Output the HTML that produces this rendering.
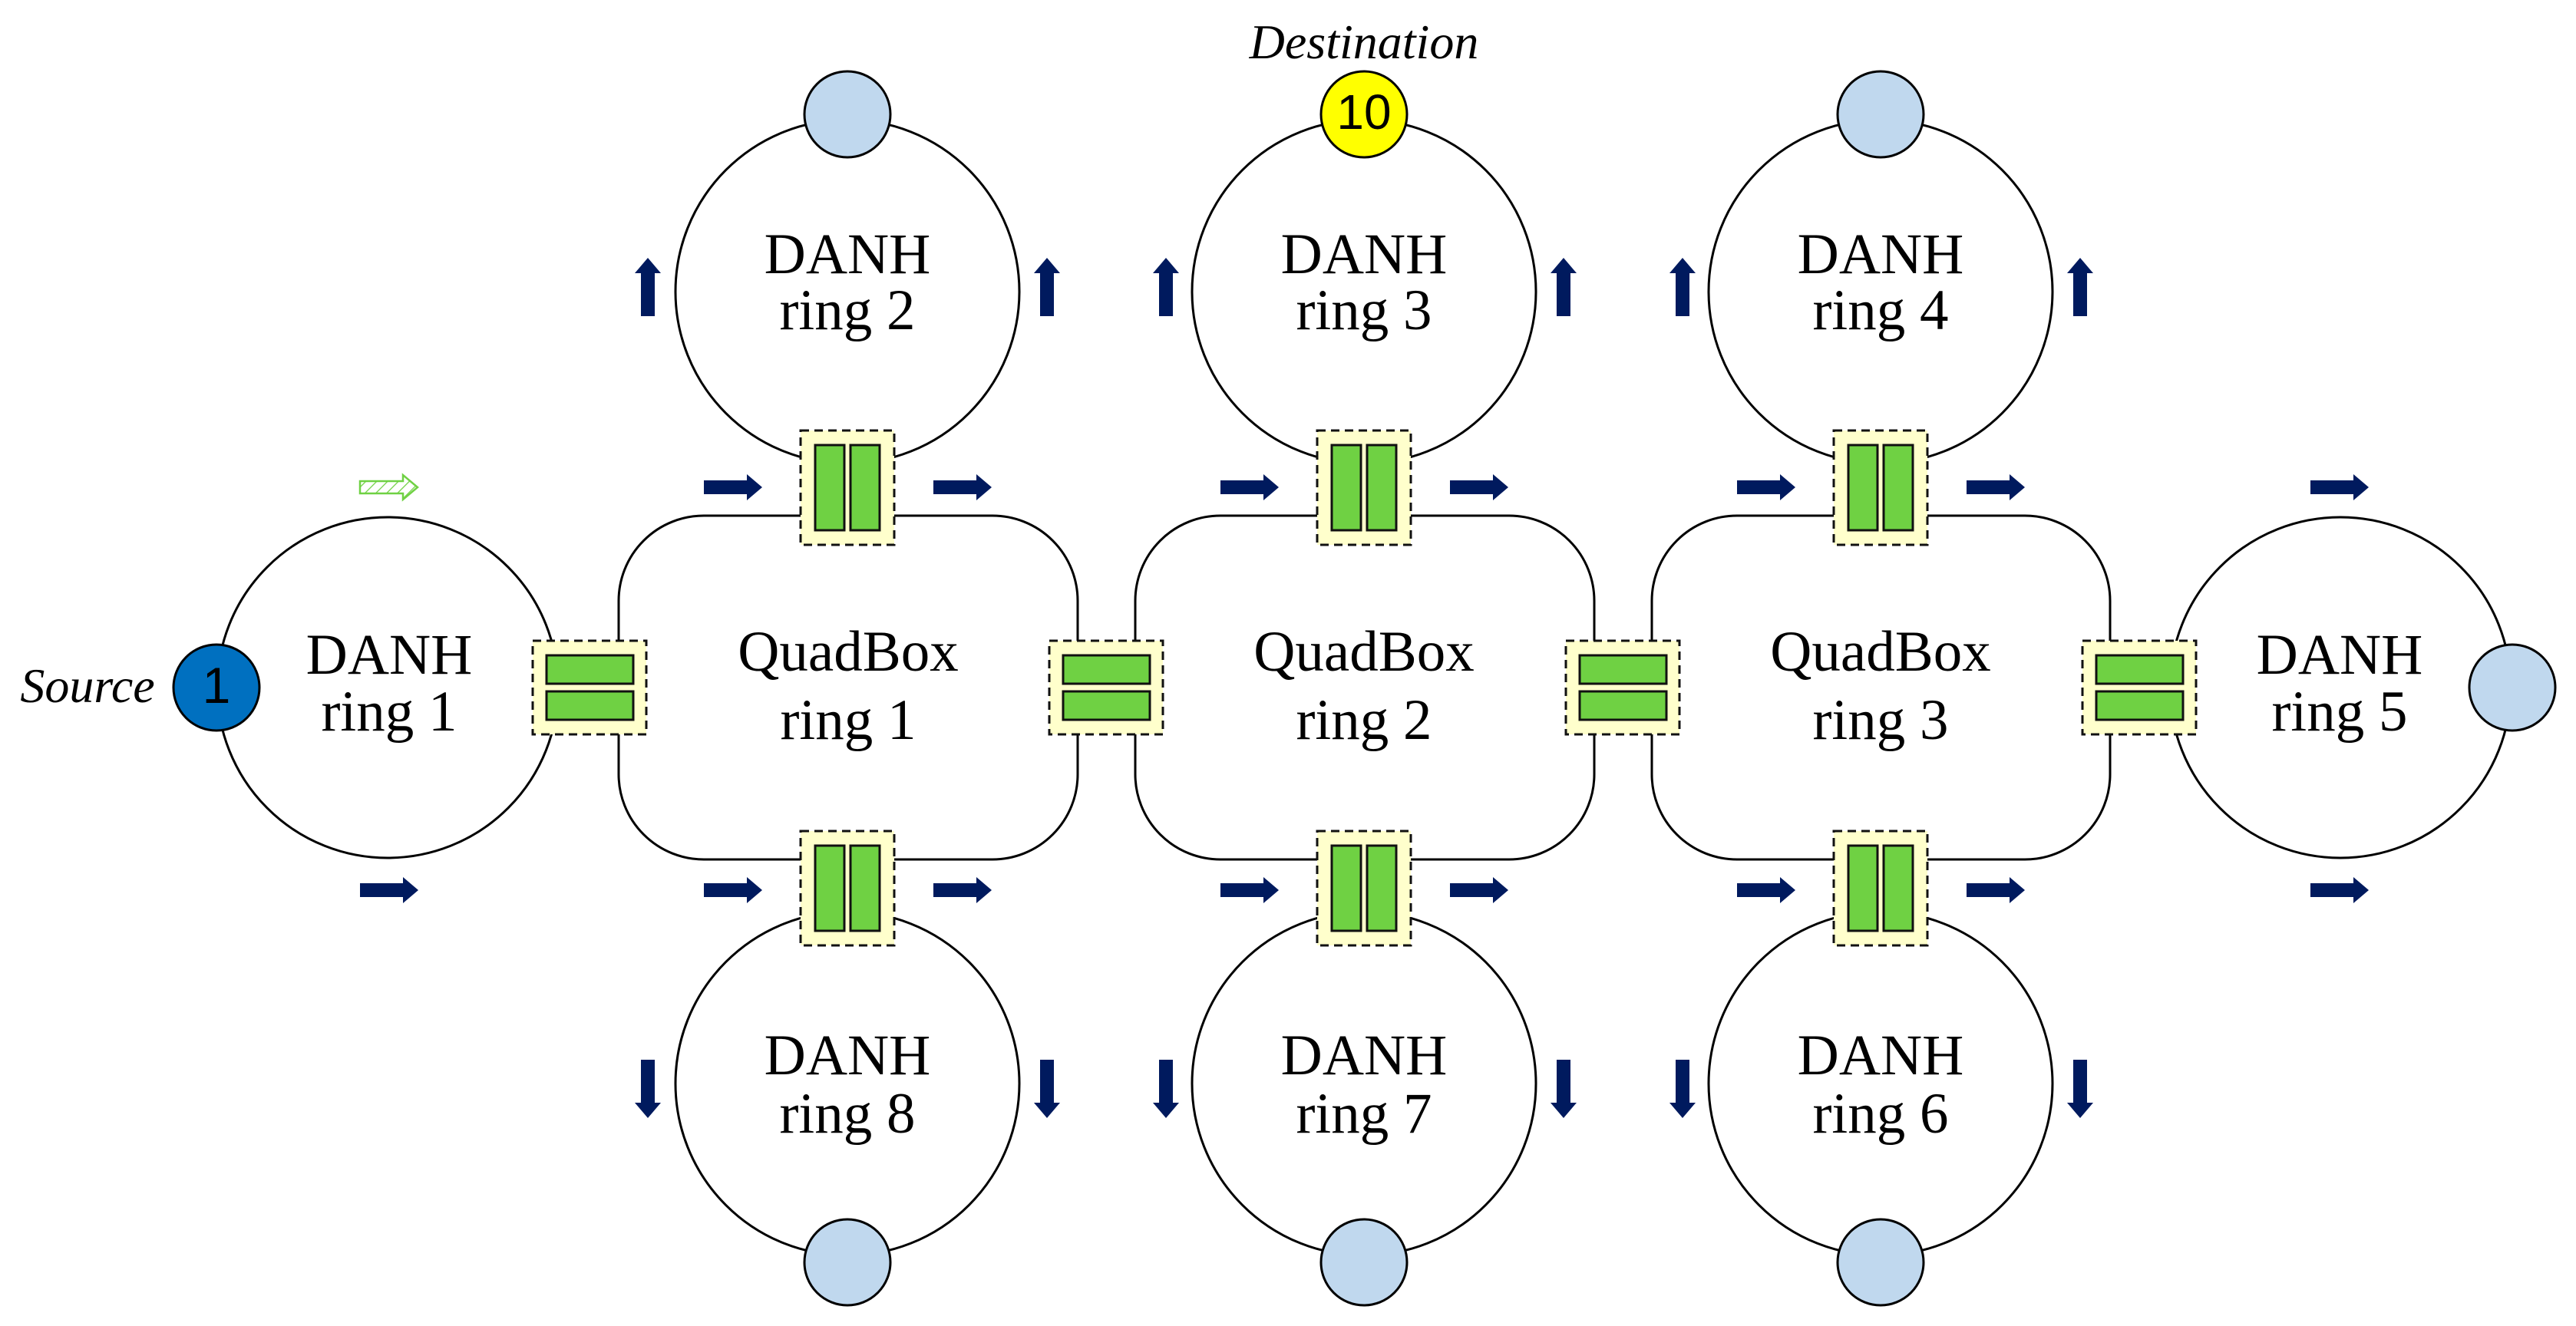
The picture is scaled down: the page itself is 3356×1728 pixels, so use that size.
<!DOCTYPE html>
<html><head><meta charset="utf-8"><style>
html,body{margin:0;padding:0;background:#fff;}
svg{display:block;}
text{font-family:"Liberation Serif","Times New Roman",Times,serif;}
.t{font-size:75px;text-anchor:middle;fill:#000;}
.n{font-family:"Liberation Sans",Arial,sans-serif;font-size:66px;text-anchor:middle;fill:#000;}
</style></head><body>
<svg width="3356" height="1728" viewBox="0 0 3356 1728" xmlns="http://www.w3.org/2000/svg">
<defs>
<pattern id="h" width="10" height="10" patternUnits="userSpaceOnUse" patternTransform="rotate(45)">
<line x1="0" y1="0" x2="0" y2="10" stroke="#6fd143" stroke-width="2.5"/>
</pattern>
<g id="ar"><polygon points="0,-9 56,-9 56,-17 76,0 56,17 56,9 0,9" fill="#001a5e"/></g>
<g id="bx">
<rect x="-61" y="-75" width="122" height="149" fill="#ffffcc" stroke="#111" stroke-width="3" stroke-dasharray="11,7"/>
<rect x="-42" y="-56" width="38" height="111" fill="#6fd143" stroke="#111" stroke-width="3"/>
<rect x="4" y="-56" width="38" height="111" fill="#6fd143" stroke="#111" stroke-width="3"/>
</g>
<g id="sx">
<rect x="-74" y="-61" width="148" height="122" fill="#ffffcc" stroke="#111" stroke-width="3" stroke-dasharray="11,7"/>
<rect x="-56" y="-42" width="113" height="37" fill="#6fd143" stroke="#111" stroke-width="3"/>
<rect x="-56" y="5" width="113" height="37" fill="#6fd143" stroke="#111" stroke-width="3"/>
</g>
</defs>
<g fill="none" stroke="#000" stroke-width="3">
<circle cx="505" cy="896" r="222"/>
<circle cx="3049" cy="896" r="222"/>
<circle cx="1104" cy="380" r="224"/>
<circle cx="1777" cy="380" r="224"/>
<circle cx="2450" cy="380" r="224"/>
<circle cx="1104" cy="1412" r="224"/>
<circle cx="1777" cy="1412" r="224"/>
<circle cx="2450" cy="1412" r="224"/>
<rect x="806" y="672" width="598" height="448" rx="111" ry="111"/>
<rect x="1479" y="672" width="598" height="448" rx="111" ry="111"/>
<rect x="2152" y="672" width="597" height="448" rx="111" ry="111"/>
</g>
<use href="#sx" x="768" y="896"/>
<use href="#sx" x="1441" y="896"/>
<use href="#sx" x="2114" y="896"/>
<use href="#sx" x="2787" y="896"/>
<use href="#bx" x="1104" y="636"/>
<use href="#bx" x="1777" y="636"/>
<use href="#bx" x="2450" y="636"/>
<use href="#bx" x="1104" y="1158"/>
<use href="#bx" x="1777" y="1158"/>
<use href="#bx" x="2450" y="1158"/>
<circle cx="282" cy="896" r="56" fill="#0070c0" stroke="#000" stroke-width="3"/>
<text class="n" font-family="Liberation Sans, Arial, sans-serif" x="282" y="916">1</text>
<circle cx="1777" cy="149" r="56" fill="#ffff00" stroke="#000" stroke-width="3"/>
<text class="n" font-family="Liberation Sans, Arial, sans-serif" x="1777" y="168" style="font-size:64px">10</text>
<g fill="#c0d8ee" stroke="#000" stroke-width="3">
<circle cx="1104" cy="149" r="56"/>
<circle cx="2450" cy="149" r="56"/>
<circle cx="1104" cy="1645" r="56"/>
<circle cx="1777" cy="1645" r="56"/>
<circle cx="2450" cy="1645" r="56"/>
<circle cx="3273" cy="896" r="56"/>
</g>
<use href="#ar" x="917" y="635"/><use href="#ar" x="1216" y="635"/>
<use href="#ar" x="1590" y="635"/><use href="#ar" x="1889" y="635"/>
<use href="#ar" x="2263" y="635"/><use href="#ar" x="2562" y="635"/>
<use href="#ar" x="3010" y="635"/>
<use href="#ar" x="917" y="1160"/><use href="#ar" x="1216" y="1160"/>
<use href="#ar" x="1590" y="1160"/><use href="#ar" x="1889" y="1160"/>
<use href="#ar" x="2263" y="1160"/><use href="#ar" x="2562" y="1160"/>
<use href="#ar" x="3010" y="1160"/>
<use href="#ar" x="469" y="1160"/>
<use href="#ar" transform="translate(844,412) rotate(-90)"/>
<use href="#ar" transform="translate(1364,412) rotate(-90)"/>
<use href="#ar" transform="translate(1519,412) rotate(-90)"/>
<use href="#ar" transform="translate(2037,412) rotate(-90)"/>
<use href="#ar" transform="translate(2192,412) rotate(-90)"/>
<use href="#ar" transform="translate(2710,412) rotate(-90)"/>
<use href="#ar" transform="translate(844,1381) rotate(90)"/>
<use href="#ar" transform="translate(1364,1381) rotate(90)"/>
<use href="#ar" transform="translate(1519,1381) rotate(90)"/>
<use href="#ar" transform="translate(2037,1381) rotate(90)"/>
<use href="#ar" transform="translate(2192,1381) rotate(90)"/>
<use href="#ar" transform="translate(2710,1381) rotate(90)"/>
<polygon points="469,627 525,627 525,619 544,635 525,651 525,643 469,643" fill="url(#h)" stroke="#6fd143" stroke-width="2.5"/>
<g font-family="Liberation Serif, Times New Roman, Times, serif">
<text class="t" x="507" y="878">DANH</text><text class="t" x="507" y="952">ring 1</text>
<text class="t" x="3048" y="878">DANH</text><text class="t" x="3048" y="952">ring 5</text>
<text class="t" x="1104" y="356">DANH</text><text class="t" x="1104" y="429">ring 2</text>
<text class="t" x="1777" y="356">DANH</text><text class="t" x="1777" y="429">ring 3</text>
<text class="t" x="2450" y="356">DANH</text><text class="t" x="2450" y="429">ring 4</text>
<text class="t" x="1104" y="1400">DANH</text><text class="t" x="1104" y="1476">ring 8</text>
<text class="t" x="1777" y="1400">DANH</text><text class="t" x="1777" y="1476">ring 7</text>
<text class="t" x="2450" y="1400">DANH</text><text class="t" x="2450" y="1476">ring 6</text>
<text class="t" x="1105" y="874">QuadBox</text><text class="t" x="1105" y="963">ring 1</text>
<text class="t" x="1777" y="874">QuadBox</text><text class="t" x="1777" y="963">ring 2</text>
<text class="t" x="2450" y="874">QuadBox</text><text class="t" x="2450" y="963">ring 3</text>
<text class="t" x="114" y="915" style="font-style:italic;font-size:64px">Source</text>
<text class="t" x="1777" y="76" style="font-style:italic;font-size:64px">Destination</text>
</g>
</svg>
</body></html>
